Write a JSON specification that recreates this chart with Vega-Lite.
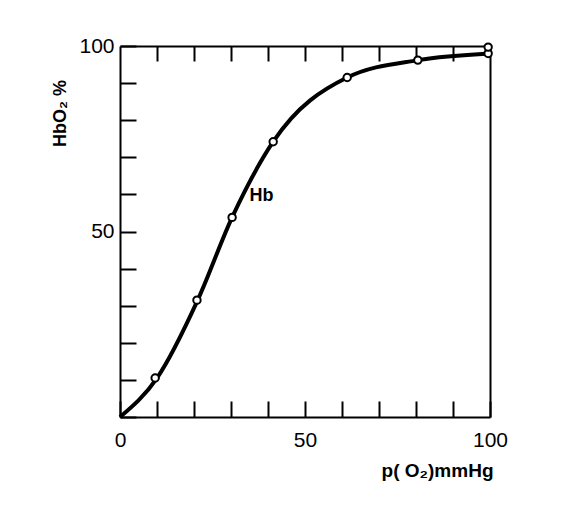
{
  "$schema": "https://vega.github.io/schema/vega-lite/v6.json",
  "width": 370,
  "height": 371,
  "autosize": {"type": "none"},
  "padding": {"left": 120, "top": 46, "right": 94, "bottom": 97},
  "background": "white",
  "config": {
    "view": {"stroke": null},
    "axis": {
      "grid": false,
      "domainColor": "black",
      "domainWidth": 2,
      "tickColor": "black",
      "tickWidth": 2,
      "tickSize": -16,
      "labelFont": "Liberation Sans",
      "labelFontSize": 21,
      "labelColor": "black",
      "labelFlush": false,
      "labelOverlap": false,
      "titleFont": "Liberation Sans",
      "titleFontWeight": "bold",
      "titleColor": "black"
    }
  },
  "datasets": {
    "curve": [
      {"p": 0, "s": 0},
      {"p": 10, "s": 10.5},
      {"p": 21, "s": 31.5},
      {"p": 30.3, "s": 53.8},
      {"p": 41.4, "s": 74.2},
      {"p": 61.4, "s": 91.5},
      {"p": 80.5, "s": 96.2},
      {"p": 100, "s": 98}
    ],
    "points": [
      {"p": 9.5, "s": 10.5},
      {"p": 20.8, "s": 31.5},
      {"p": 30.3, "s": 53.8},
      {"p": 41.4, "s": 74.2},
      {"p": 61.4, "s": 91.5},
      {"p": 80.5, "s": 96.2},
      {"p": 99.5, "s": 98},
      {"p": 99.5, "s": 99.7}
    ],
    "labels": [
      {"p": 35, "s": 59.5, "text": "Hb"}
    ]
  },
  "layer": [
    {
      "data": {"name": "curve"},
      "mark": {"type": "line", "interpolate": "monotone", "color": "black", "strokeWidth": 4},
      "encoding": {
        "x": {
          "field": "p", "type": "quantitative",
          "scale": {"domain": [0, 100], "nice": false},
          "axis": {
            "orient": "bottom",
            "values": [0, 10, 20, 30, 40, 50, 60, 70, 80, 90, 100],
            "labelExpr": "datum.value % 50 === 0 ? datum.label : ''",
            "labelPadding": 28,
            "title": "p( O₂)mmHg",
            "titleFontSize": 19,
            "titleAlign": "right",
            "titleBaseline": "middle",
            "titleX": 373,
            "titleY": 53
          }
        },
        "y": {
          "field": "s", "type": "quantitative",
          "scale": {"domain": [0, 100], "nice": false},
          "axis": {
            "orient": "left",
            "values": [0, 10, 20, 30, 40, 50, 60, 70, 80, 90, 100],
            "labelExpr": "datum.value === 50 || datum.value === 100 ? datum.label : ''",
            "labelPadding": 22,
            "title": "HbO₂ %",
            "titleFontSize": 18,
            "titleAngle": 270,
            "titleAlign": "center",
            "titleBaseline": "middle",
            "titleX": -60,
            "titleY": 67
          }
        }
      }
    },
    {
      "data": {"name": "points"},
      "mark": {"type": "point", "shape": "circle", "filled": true, "fill": "white", "stroke": "black", "strokeWidth": 2, "size": 55, "opacity": 1},
      "encoding": {
        "x": {
          "field": "p", "type": "quantitative",
          "axis": {
            "orient": "top",
            "values": [10, 20, 30, 40, 50, 60, 70, 80, 90],
            "labels": false,
            "title": null,
            "tickSize": -15
          }
        },
        "y": {
          "field": "s", "type": "quantitative",
          "axis": {
            "orient": "right",
            "ticks": false,
            "labels": false,
            "title": null
          }
        }
      }
    },
    {
      "data": {"name": "labels"},
      "mark": {"type": "text", "align": "left", "baseline": "middle", "font": "Liberation Sans", "fontWeight": "bold", "fontSize": 18, "color": "black"},
      "encoding": {
        "x": {"field": "p", "type": "quantitative", "axis": null},
        "y": {"field": "s", "type": "quantitative", "axis": null},
        "text": {"field": "text"}
      }
    }
  ],
  "resolve": {"axis": {"x": "independent", "y": "independent"}}
}
